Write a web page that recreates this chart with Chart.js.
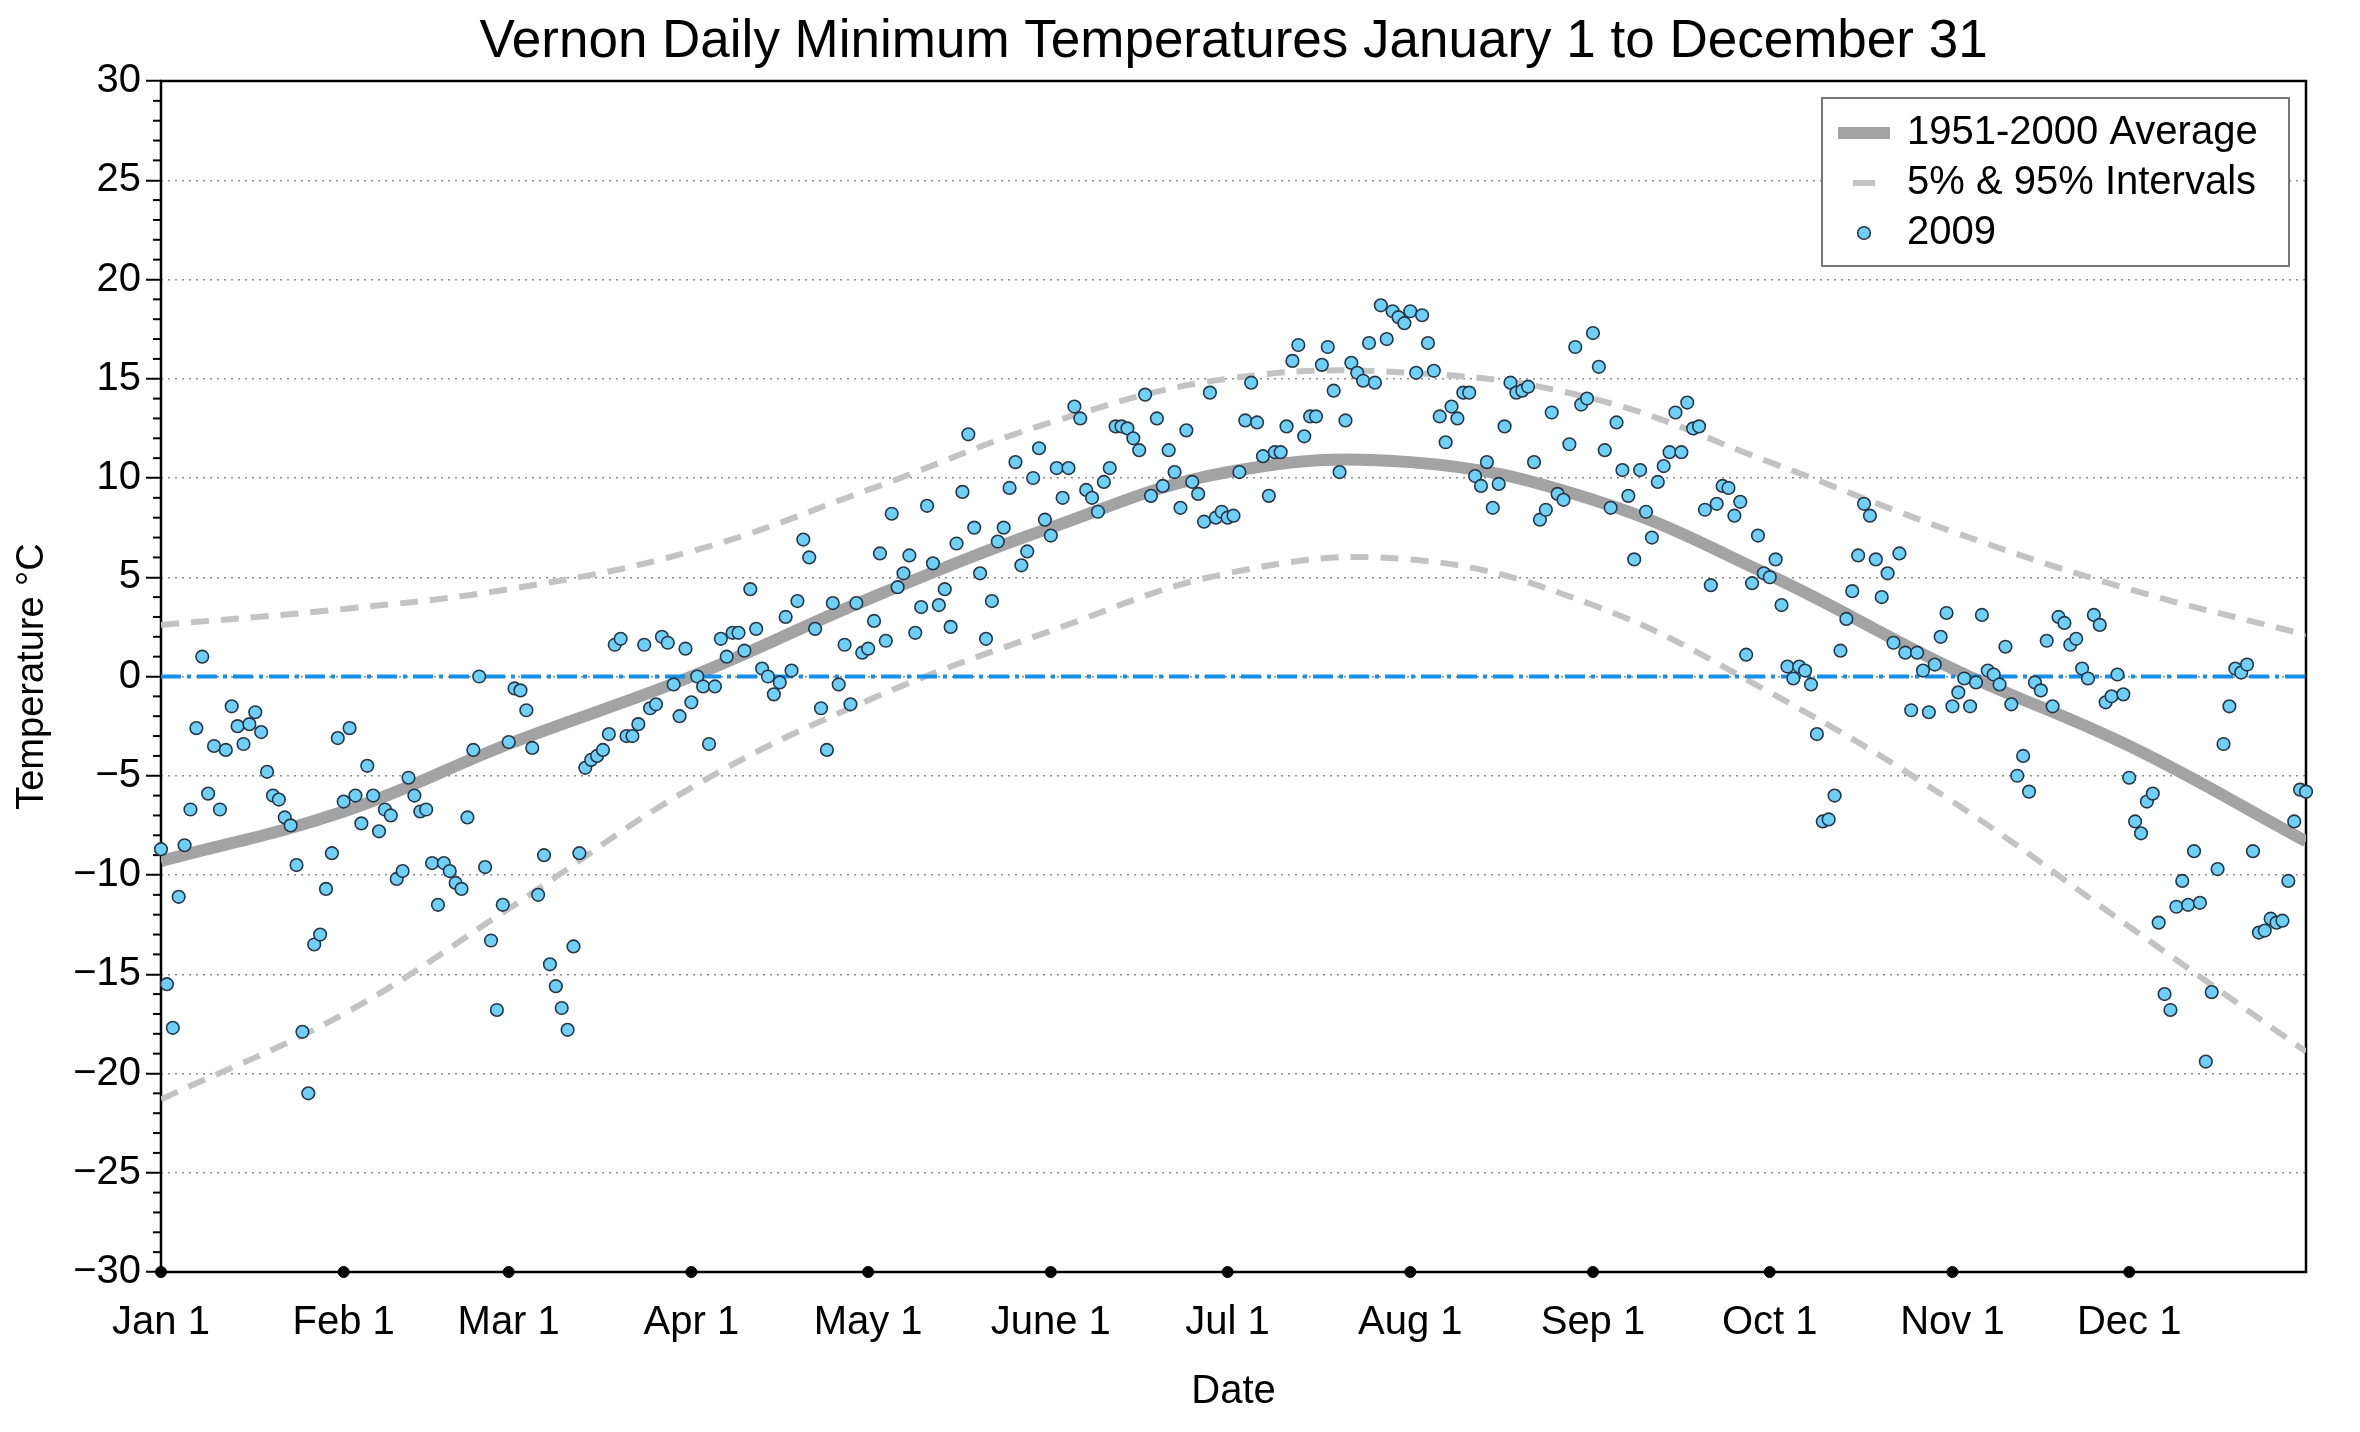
<!DOCTYPE html>
<html>
<head>
<meta charset="utf-8">
<script src="https://cdn.jsdelivr.net/npm/chart.js@4.4.1/dist/chart.umd.min.js"></script>
<style>
  html, body { margin: 0; padding: 0; background: #fff; }
</style>
</head>
<body>
<canvas id="chart" width="2360" height="1432"></canvas>
<script>
const FONT = "'Liberation Sans', Arial, Helvetica, sans-serif";

// 2009 daily minimum temperatures, one array per month
const jan = [-8.7,-15.5,-17.7,-11.1,-8.5,-6.7,-2.6,1.0,-5.9,-3.5,-6.7,-3.7,-1.5,-2.5,-3.4,-2.4,-1.8,-2.8,-4.8,-6.0,-6.2,-7.1,-7.5,-9.5,-17.9,-21.0,-13.5,-13.0,-10.7,-8.9,-3.1];
const feb = [-6.3,-2.6,-6.0,-7.4,-4.5,-6.0,-7.8,-6.7,-7.0,-10.2,-9.8,-5.1,-6.0,-6.8,-6.7,-9.4,-11.5,-9.4,-9.8,-10.4,-10.7,-7.1,-3.7,0.0,-9.6,-13.3,-16.8,-11.5];
const mar = [-3.3,-0.6,-0.7,-1.7,-3.6,-11.0,-9.0,-14.5,-15.6,-16.7,-17.8,-13.6,-8.9,-4.6,-4.2,-4.0,-3.7,-2.9,1.6,1.9,-3.0,-3.0,-2.4,1.6,-1.6,-1.4,2.0,1.7,-0.4,-2.0,1.4];
const apr = [-1.3,0.0,-0.5,-3.4,-0.5,1.9,1.0,2.2,2.2,1.3,4.4,2.4,0.4,0.0,-0.9,-0.3,3.0,0.3,3.8,6.9,6.0,2.4,-1.6,-3.7,3.7,-0.4,1.6,-1.4,3.7,1.2];
const may = [1.4,2.8,6.2,1.8,8.2,4.5,5.2,6.1,2.2,3.5,8.6,5.7,3.6,4.4,2.5,6.7,9.3,12.2,7.5,5.2,1.9,3.8,6.8,7.5,9.5,10.8,5.6,6.3,10.0,11.5,7.9];
const jun = [7.1,10.5,9.0,10.5,13.6,13.0,9.4,9.0,8.3,9.8,10.5,12.6,12.6,12.5,12.0,11.4,14.2,9.1,13.0,9.6,11.4,10.3,8.5,12.4,9.8,9.2,7.8,14.3,8.0,8.3];
const jul = [8.0,8.1,10.3,12.9,14.8,12.8,11.1,9.1,11.3,11.3,12.6,15.9,16.7,12.1,13.1,13.1,15.7,16.6,14.4,10.3,12.9,15.8,15.3,14.9,16.8,14.8,18.7,17.0,18.4,18.1,17.8];
const aug = [18.4,15.3,18.2,16.8,15.4,13.1,11.8,13.6,13.0,14.3,14.3,10.1,9.6,10.8,8.5,9.7,12.6,14.8,14.3,14.4,14.6,10.8,7.9,8.4,13.3,9.2,8.9,11.7,16.6,13.7,14.0];
const sep = [17.3,15.6,11.4,8.5,12.8,10.4,9.1,5.9,10.4,8.3,7.0,9.8,10.6,11.3,13.3,11.3,13.8,12.5,12.6,8.4,4.6,8.7,9.6,9.5,8.1,8.8,1.1,4.7,7.1,5.2];
const oct = [5.0,5.9,3.6,0.5,-0.1,0.5,0.3,-0.4,-2.9,-7.3,-7.2,-6.0,1.3,2.9,4.3,6.1,8.7,8.1,5.9,4.0,5.2,1.7,6.2,1.2,-1.7,1.2,0.3,-1.8,0.6,2.0,3.2];
const nov = [-1.5,-0.8,-0.1,-1.5,-0.3,3.1,0.3,0.1,-0.4,1.5,-1.4,-5.0,-4.0,-5.8,-0.3,-0.7,1.8,-1.5,3.0,2.7,1.6,1.9,0.4,-0.1,3.1,2.6,-1.3,-1.0,0.1,-0.9];
const dec = [-5.1,-7.3,-7.9,-6.3,-5.9,-12.4,-16.0,-16.8,-11.6,-10.3,-11.5,-8.8,-11.4,-19.4,-15.9,-9.7,-3.4,-1.5,0.4,0.2,0.6,-8.8,-12.9,-12.8,-12.2,-12.4,-12.3,-10.3,-7.3,-5.7,-5.8];

// month starts (day of year, 0 = Jan 1) and their labels
const monthDays = [0, 31, 59, 90, 120, 151, 181, 212, 243, 273, 304, 334];
const monthLabels = ["Jan 1", "Feb 1", "Mar 1", "Apr 1", "May 1", "June 1", "Jul 1", "Aug 1", "Sep 1", "Oct 1", "Nov 1", "Dec 1"];

// 1951-2000 climatology, read at knots
const avgDays = [0, 31, 59, 90, 120, 151, 181, 212, 243, 273, 304, 334, 364];
const avgTemps = [-9.3, -6.8, -3.4, 0.0, 3.9, 7.5, 10.3, 10.8, 8.9, 5.1, 0.4, -3.5, -8.3];
const pctDays = [0, 31, 59, 90, 120, 151, 181, 212, 243, 273, 304, 334, 364];
const p95Temps = [2.6, 3.4, 4.4, 6.3, 9.4, 12.8, 15.0, 15.3, 14.0, 10.8, 7.3, 4.4, 2.1];
const p5Temps = [-21.3, -17.0, -11.7, -5.6, -1.2, 2.3, 5.2, 5.9, 3.6, -0.8, -6.3, -12.6, -18.9];

const zeroDays = [0, 364];
const zeroTemps = [0, 0];

const Y_MIN = -30;
const Y_MAX = 30;

const temps2009 = [].concat(jan, feb, mar, apr, may, jun, jul, aug, sep, oct, nov, dec);
const pairs = (xs, ys) => xs.map((x, i) => ({ x, y: ys[i] }));

const AVG_COLOR = "#a3a3a3";
const PCT_COLOR = "#c3c3c3";
const DOT_FILL = "#6fd0f7";
const DOT_EDGE = "#263646";

const titlePlugin = {
    id: "plotTitle",
    afterDraw(chart) {
        const { ctx, chartArea } = chart;
        ctx.save();
        ctx.fillStyle = "#000";
        ctx.font = `53px ${FONT}`;
        ctx.textAlign = "center";
        ctx.textBaseline = "middle";
        ctx.fillText("Vernon Daily Minimum Temperatures January 1 to December 31", (chartArea.left + chartArea.right) / 2, 42);
        ctx.restore();
    }
};

const framePlugin = {
    id: "frame",
    beforeDatasetsDraw(chart) {
        const { ctx, chartArea } = chart;
        const yScale = chart.scales.y;
        ctx.save();
        ctx.strokeStyle = "#000";
        ctx.lineWidth = 2.5;
        ctx.strokeRect(chartArea.left, chartArea.top, chartArea.right - chartArea.left, chartArea.bottom - chartArea.top);
        // minor ticks every degree
        ctx.lineWidth = 2;
        for (let v = Y_MIN; v <= Y_MAX; v++) {
            if (v % 5 === 0) continue;
            const y = yScale.getPixelForValue(v);
            ctx.beginPath();
            ctx.moveTo(chartArea.left - 8, y);
            ctx.lineTo(chartArea.left, y);
            ctx.stroke();
        }
        ctx.restore();
    }
};

const legendPlugin = {
    id: "boxLegend",
    afterDraw(chart) {
        const { ctx, chartArea } = chart;
        const w = 467, h = 168;
        const x0 = chartArea.right - 17 - w;
        const y0 = chartArea.top + 17;
        ctx.save();
        ctx.fillStyle = "#fff";
        ctx.fillRect(x0, y0, w, h);
        ctx.strokeStyle = "#777";
        ctx.lineWidth = 2;
        ctx.strokeRect(x0, y0, w, h);

        const rows = [y0 + 35, y0 + 85, y0 + 135];
        const symX = x0 + 42;
        const textX = x0 + 85;

        ctx.lineCap = "butt";
        ctx.strokeStyle = AVG_COLOR;
        ctx.lineWidth = 12;
        ctx.beginPath();
        ctx.moveTo(symX - 26, rows[0]);
        ctx.lineTo(symX + 26, rows[0]);
        ctx.stroke();

        ctx.strokeStyle = PCT_COLOR;
        ctx.lineWidth = 6;
        ctx.beginPath();
        ctx.moveTo(symX - 11, rows[1]);
        ctx.lineTo(symX + 11, rows[1]);
        ctx.stroke();

        ctx.fillStyle = DOT_FILL;
        ctx.strokeStyle = DOT_EDGE;
        ctx.lineWidth = 1.6;
        ctx.beginPath();
        ctx.arc(symX, rows[2], 6.3, 0, Math.PI * 2);
        ctx.fill();
        ctx.stroke();

        ctx.fillStyle = "#000";
        ctx.font = `40px ${FONT}`;
        ctx.textAlign = "left";
        ctx.textBaseline = "middle";
        ctx.fillText("1951-2000 Average", textX, rows[0]);
        ctx.fillText("5% & 95% Intervals", textX, rows[1]);
        ctx.fillText("2009", textX, rows[2]);
        ctx.restore();
    }
};

new Chart(document.getElementById("chart"), {
    type: "scatter",
    data: {
        datasets: [
            {
                label: "2009",
                data: pairs(temps2009.map((_, i) => i), temps2009),
                backgroundColor: DOT_FILL,
                borderColor: DOT_EDGE,
                borderWidth: 1.6,
                pointRadius: 6.3,
                clip: false,
                order: 0
            },
            {
                label: "month marks",
                data: monthDays.map((d) => ({ x: d, y: Y_MIN })),
                backgroundColor: "#000",
                borderColor: "#000",
                pointRadius: 5.5,
                clip: false,
                order: 1
            },
            {
                type: "line",
                label: "zero",
                data: pairs(zeroDays, zeroTemps),
                borderColor: "#1590ea",
                borderWidth: 4,
                borderDash: [20, 6, 4, 6],
                pointRadius: 0,
                fill: false,
                order: 2
            },
            {
                type: "line",
                label: "1951-2000 Average",
                data: pairs(avgDays, avgTemps),
                borderColor: AVG_COLOR,
                borderWidth: 12,
                tension: 0.4,
                pointRadius: 0,
                fill: false,
                order: 3
            },
            {
                type: "line",
                label: "95%",
                data: pairs(pctDays, p95Temps),
                borderColor: PCT_COLOR,
                borderWidth: 6,
                borderDash: [18, 12],
                tension: 0.4,
                pointRadius: 0,
                fill: false,
                order: 4
            },
            {
                type: "line",
                label: "5%",
                data: pairs(pctDays, p5Temps),
                borderColor: PCT_COLOR,
                borderWidth: 6,
                borderDash: [18, 12],
                tension: 0.4,
                pointRadius: 0,
                fill: false,
                order: 4
            }
        ]
    },
    options: {
        responsive: false,
        devicePixelRatio: 1,
        animation: false,
        layout: { padding: { top: 81, right: 54, bottom: 0, left: 0 } },
        plugins: {
            legend: { display: false },
            title: { display: false },
            tooltip: { enabled: false }
        },
        scales: {
            x: {
                type: "linear",
                min: 0,
                max: 364,
                afterBuildTicks: (scale) => {
                    scale.ticks = monthDays.map((v) => ({ value: v }));
                },
                afterFit: (scale) => { scale.height = 160; },
                grid: { display: false, drawTicks: false },
                border: { display: false },
                ticks: {
                    autoSkip: false,
                    maxRotation: 0,
                    padding: 27,
                    color: "#000",
                    font: { family: FONT, size: 40 },
                    callback: (value) => monthLabels[monthDays.indexOf(value)]
                },
                title: {
                    display: true,
                    text: "Date",
                    color: "#000",
                    font: { family: FONT, size: 40 },
                    padding: { top: 0, bottom: 16 }
                }
            },
            y: {
                min: Y_MIN,
                max: Y_MAX,
                afterFit: (scale) => { scale.width = 161; },
                grid: {
                    color: (ctx) => (ctx.tick && Math.abs(ctx.tick.value) < Y_MAX ? "#8c8c8c" : "rgba(0,0,0,0)"),
                    lineWidth: 1.5,
                    tickColor: "#000",
                    tickWidth: 2,
                    tickLength: 15
                },
                border: { display: false, dash: [2, 5] },
                ticks: {
                    stepSize: 5,
                    padding: 5,
                    color: "#000",
                    font: { family: FONT, size: 40 },
                    callback: (value) => (value < 0 ? "\u2212" + Math.abs(value) : String(value))
                },
                title: {
                    display: true,
                    text: "Temperature °C",
                    color: "#000",
                    font: { family: FONT, size: 38 },
                    padding: { top: 10, bottom: 0 }
                }
            }
        }
    },
    plugins: [framePlugin, titlePlugin, legendPlugin]
});
</script>
</body>
</html>
